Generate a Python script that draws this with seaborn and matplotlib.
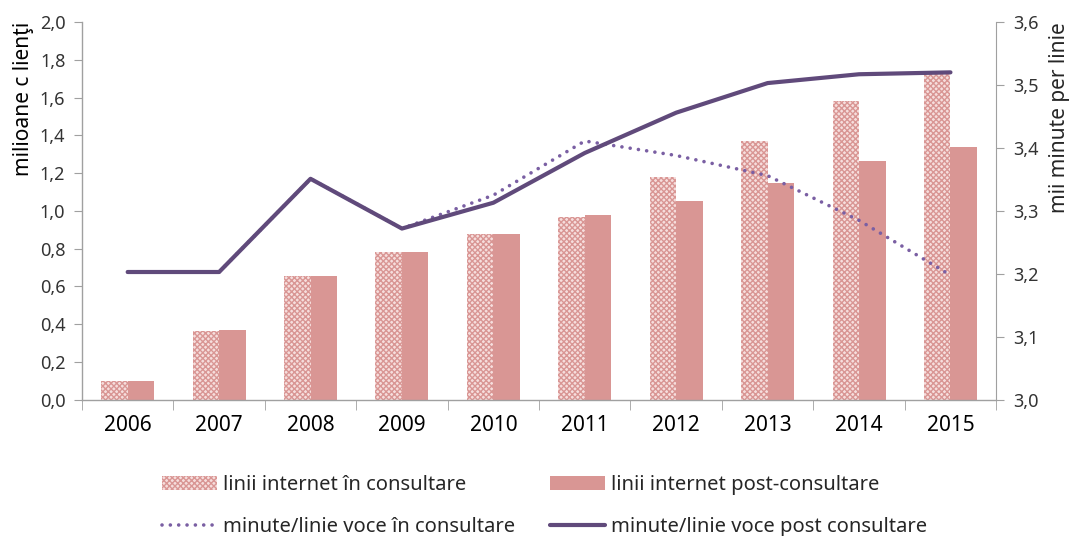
import numpy as np
import pandas as pd
import matplotlib
matplotlib.use("Agg")
import matplotlib.pyplot as plt
import seaborn as sns
from matplotlib.ticker import FuncFormatter, FixedLocator
from matplotlib.patches import Patch
from matplotlib.lines import Line2D

years = ["2006", "2007", "2008", "2009", "2010", "2011", "2012", "2013", "2014", "2015"]
internet_in = [0.10, 0.365, 0.655, 0.78, 0.88, 0.97, 1.18, 1.37, 1.58, 1.73]
internet_post = [0.10, 0.37, 0.655, 0.78, 0.88, 0.98, 1.055, 1.15, 1.265, 1.34]
voce_in = [3.203, 3.203, 3.351, 3.272, 3.325, 3.411, 3.388, 3.356, 3.285, 3.198]
voce_post = [3.203, 3.203, 3.351, 3.272, 3.313, 3.392, 3.456, 3.503, 3.517, 3.520]

lbl_in = "linii internet în consultare"
lbl_post = "linii internet post-consultare"
lbl_vin = "minute/linie voce în consultare"
lbl_vpost = "minute/linie voce post consultare"

sns.set_style("white")
plt.rcParams["font.family"] = ["Noto Sans", "DejaVu Sans"]
plt.rcParams["hatch.linewidth"] = 1.0

bar_df = pd.DataFrame({
    "an": years * 2,
    "val": internet_in + internet_post,
    "serie": [lbl_in] * len(years) + [lbl_post] * len(years),
})

fig = plt.figure(figsize=(10.73, 5.36), dpi=100)
ax = fig.add_axes([0.0764, 0.254, 0.852, 0.705])

pink = "#D99694"
light = "#F6DEDD"
dot_col = "#7A5FA3"
line_col = "#604A7B"
dot_ls = (0, (0.01, 2.3))

sns.barplot(data=bar_df, x="an", y="val", hue="serie", ax=ax,
            palette={lbl_in: light, lbl_post: pink},
            width=0.58, gap=0, saturation=1, legend=False)
n = len(years)
for p in ax.patches[:n]:
    p.set_hatch("xxxxxx")
    p.set_edgecolor(pink)
    p.set_linewidth(0)
for p in ax.patches[n:2 * n]:
    p.set_edgecolor("none")
    p.set_linewidth(0)

fmt = FuncFormatter(lambda v, _: f"{v:.1f}".replace(".", ","))
ax.set_xlim(-0.5, n - 0.5)
ax.set_ylim(0, 2.0)
ax.set_yticks(np.arange(0, 2.01, 0.2))
ax.yaxis.set_major_formatter(fmt)
ax.set_xlabel("")
ax.set_ylabel("milioane c lienţi", fontsize=15, color="#000000", labelpad=4, loc="top")
ax.xaxis.set_major_locator(FixedLocator(np.arange(n)))
ax.set_xticklabels(years, fontsize=15, color="#000000")
ax.xaxis.set_minor_locator(FixedLocator(np.arange(-0.5, n, 1.0)))
ax.tick_params(axis="x", which="major", length=0, pad=11)
ax.tick_params(axis="x", which="minor", length=7, color="#A0A0A0", direction="out", bottom=True)
ax.tick_params(axis="y", labelsize=13, labelcolor="#333333", length=6, color="#A0A0A0",
               direction="out", left=True, pad=6)

for s in ["top", "right"]:
    ax.spines[s].set_visible(False)
for s in ["left", "bottom"]:
    ax.spines[s].set_color("#A0A0A0")
    ax.spines[s].set_linewidth(1)

ax2 = ax.twinx()
xs = np.arange(n)
sns.lineplot(x=xs, y=voce_in, ax=ax2, color=dot_col, linewidth=2.6,
             linestyle=dot_ls, label=lbl_vin, legend=False)
sns.lineplot(x=xs, y=voce_post, ax=ax2, color=line_col, linewidth=3,
             label=lbl_vpost, legend=False)
ax2.lines[0].set_dash_capstyle("round")
ax2.lines[1].set_solid_capstyle("round")
ax2.set_ylim(3.0, 3.6)
ax2.set_yticks(np.arange(3.0, 3.601, 0.1))
ax2.yaxis.set_major_formatter(fmt)
ax2.set_ylabel("mii minute per linie", fontsize=15, labelpad=8, loc="top")
ax2.tick_params(axis="y", labelsize=13, labelcolor="#333333", length=6, color="#A0A0A0",
                direction="out", right=True, pad=6)
for s in ["top", "left", "bottom"]:
    ax2.spines[s].set_visible(False)
ax2.spines["right"].set_color("#A0A0A0")
ax2.set_xlim(-0.5, n - 0.5)

h_in = Patch(facecolor=light, edgecolor=pink, hatch="xxxxxx", linewidth=0)
h_post = Patch(facecolor=pink, edgecolor="none")
h_vin = Line2D([], [], color=dot_col, linewidth=2.6, linestyle=dot_ls, dash_capstyle="round")
h_vpost = Line2D([], [], color=line_col, linewidth=3, solid_capstyle="round")
fig.legend([h_in, h_vin, h_post, h_vpost], [lbl_in, lbl_vin, lbl_post, lbl_vpost],
           ncol=2, loc="upper left", bbox_to_anchor=(0.151, 0.114), frameon=False,
           borderpad=0, borderaxespad=0,
           fontsize=14.5, handlelength=2.75, handleheight=0.7, handletextpad=0.3,
           columnspacing=1.7, labelspacing=1.1)

fig.savefig("out.png", dpi=100)
